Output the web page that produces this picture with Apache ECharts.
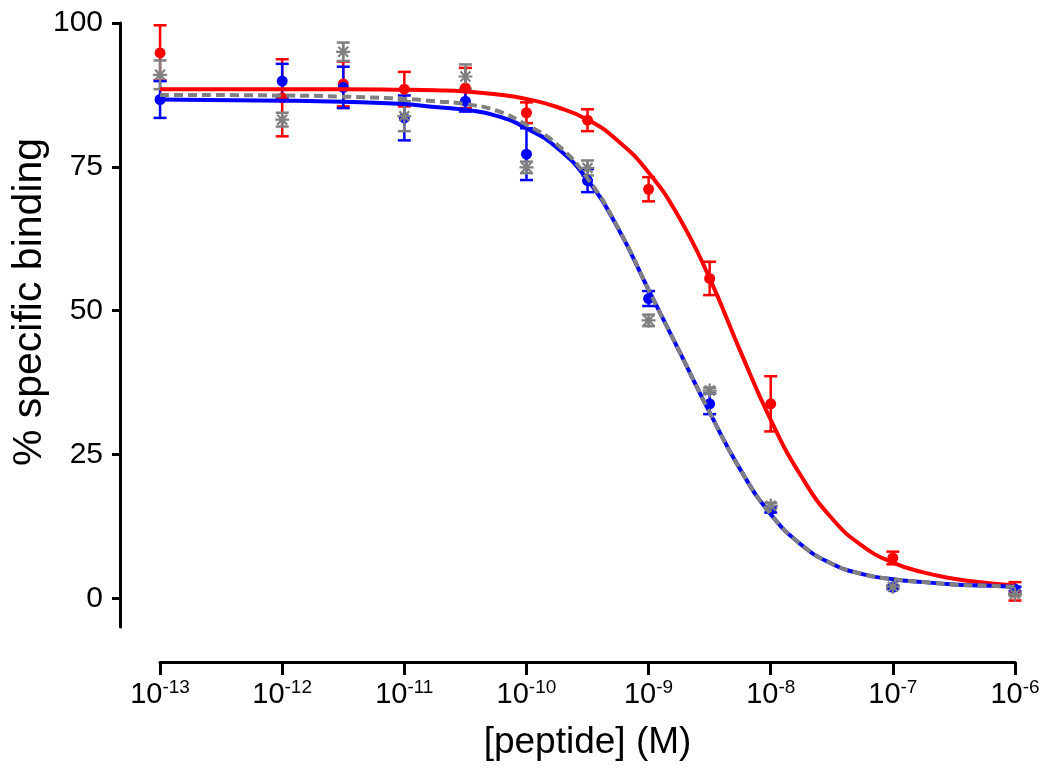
<!DOCTYPE html>
<html><head><meta charset="utf-8">
<script src="https://cdn.jsdelivr.net/npm/echarts@6/dist/echarts.min.js"></script>
<style>html,body{margin:0;padding:0;background:#fff}#c{width:1050px;height:780px}</style>
</head><body><div id="c"></div>
<script>
// ---- data (x in log10 molar) ----
const xTickExps = [-13, -12, -11, -10, -9, -8, -7, -6];
const yTickValues = [0, 25, 50, 75, 100];
const logConc = [-13, -12, -11.5, -11, -10.5, -10, -9.5, -9, -8.5, -8, -7, -6];

const redMean = [94.8, 87.0, 89.4, 88.5, 88.7, 84.4, 83.1, 71.1, 55.6, 33.8, 7.0, 1.2];
const redErr  = [4.8, 6.7, 3.9, 3.0, 3.5, 1.8, 1.9, 2.1, 2.9, 4.8, 1.1, 1.6];
const blueMean = [86.7, 89.9, 88.8, 83.5, 86.4, 77.2, 72.6, 52.1, 33.8, 15.4, 1.9, 1.6];
const blueErr  = [3.2, 3.0, 3.6, 3.9, 1.8, 4.5, 2.0, 1.3, 1.8, 0.5, 0.3, 0.4];
const grayMean = [91.0, 83.2, 95.0, 83.8, 90.7, 74.9, 74.8, 48.3, 36.1, 16.1, 2.0, 0.7];
const grayErr  = [2.5, 1.2, 1.6, 2.6, 2.1, 1.0, 1.3, 1.0, 0.5, 0.5, 0.3, 0.3];

// fitted curves
const curveX = [-13, -12, -11.5, -11, -10.75, -10.5, -10.25, -10, -9.75, -9.5, -9.25, -9, -8.75, -8.5, -8.25, -8, -7.75, -7.5, -7.25, -7, -6.75, -6.5, -6.25, -6];
const redFit  = [88.5, 88.5, 88.5, 88.4, 88.3, 88.1, 87.6, 86.8, 85.4, 83.2, 79.5, 74.0, 66.2, 55.6, 43.0, 31.0, 21.2, 13.9, 9.1, 6.2, 4.5, 3.4, 2.7, 2.2];
const blueFit = [86.7, 86.5, 86.3, 85.9, 85.4, 84.9, 83.9, 81.7, 78.3, 72.7, 64.3, 53.6, 43.0, 32.3, 22.4, 14.6, 9.3, 6.0, 4.2, 3.3, 2.8, 2.4, 2.2, 2.0];
const grayFit = [87.5, 87.4, 87.2, 86.8, 86.4, 85.9, 84.8, 82.3, 78.9, 73.0, 64.4, 53.6, 43.0, 32.3, 22.4, 14.6, 9.3, 6.0, 4.2, 3.3, 2.8, 2.4, 2.2, 2.0];

// ---- helpers ----
const SANS = "'Liberation Sans', Arial, sans-serif";
const ASTER = 'path://M-1,-0.16L1,-0.16L1,0.16L-1,0.16Z M-0.16,-1L0.16,-1L0.16,1L-0.16,1Z M-0.594,-0.820L0.820,0.594L0.594,0.820L-0.820,-0.594Z M-0.820,0.594L0.594,-0.820L0.820,-0.594L-0.594,0.820Z';

function pts(xs, ys) { return xs.map((x, i) => [x, ys[i]]); }
function errData(xs, m, e) { return xs.map((x, i) => [x, m[i] - e[i], m[i] + e[i]]); }
function errRender(color) {
  return function (params, api) {
    const x = api.value(0), lo = api.value(1), hi = api.value(2);
    const pH = api.coord([x, hi]), pL = api.coord([x, lo]);
    const hw = 6.5;
    const st = { stroke: color, lineWidth: 2.5, fill: null };
    return { type: 'group', children: [
      { type: 'line', shape: { x1: pH[0], y1: pH[1], x2: pL[0], y2: pL[1] }, style: st },
      { type: 'line', shape: { x1: pH[0] - hw, y1: pH[1], x2: pH[0] + hw, y2: pH[1] }, style: st },
      { type: 'line', shape: { x1: pL[0] - hw, y1: pL[1], x2: pL[0] + hw, y2: pL[1] }, style: st }
    ]};
  };
}
function errSeries(color, m, e) {
  return { type: 'custom', xAxisIndex: 0, yAxisIndex: 0, renderItem: errRender(color),
    encode: { x: 0, y: [1, 2] }, data: errData(logConc, m, e), silent: true };
}
function pointSeries(color, m, symbol, size) {
  return { type: 'scatter', xAxisIndex: 0, yAxisIndex: 0, data: pts(logConc, m), symbol: symbol,
    symbolSize: size, itemStyle: { color: color, opacity: 1 }, silent: true };
}
function fitSeries(color, ys, dashed) {
  return { type: 'line', xAxisIndex: 0, yAxisIndex: 0, data: pts(curveX, ys), showSymbol: false,
    smooth: 0.5, silent: true,
    lineStyle: { color: color, width: 4, type: dashed ? [9, 5] : 'solid' } };
}

const chart = echarts.init(document.getElementById('c'), null, { renderer: 'canvas' });
chart.setOption({
  animation: false,
  backgroundColor: '#ffffff',
  grid: [
    { left: 120, right: 35, top: 23, bottom: 153, outerBoundsMode: 'none', containLabel: false },
    { left: 160, right: 35, top: 560, bottom: 118, outerBoundsMode: 'none', containLabel: false }
  ],
  xAxis: [
    { gridIndex: 0, type: 'value', min: -13.328, max: -6, show: false },
    { gridIndex: 1, type: 'value', min: -13, max: -6, interval: 1,
      name: '[peptide] (M)', nameLocation: 'middle', nameGap: 62, nameMoveOverlap: false,
      nameTextStyle: { fontFamily: SANS, fontSize: 37, color: '#000' },
      axisLine: { show: true, onZero: false, lineStyle: { color: '#000', width: 3 } },
      axisTick: { show: true, inside: false, length: 13, lineStyle: { color: '#000', width: 3 } },
      splitLine: { show: false },
      axisLabel: { margin: 16, color: '#000',
        formatter: v => '{b|10}{s|' + v + '}',
        rich: {
          b: { fontFamily: SANS, fontSize: 29, lineHeight: 33, color: '#000' },
          s: { fontFamily: SANS, fontSize: 19, lineHeight: 19, verticalAlign: 'top', color: '#000' }
        } } }
  ],
  yAxis: [
    { gridIndex: 0, type: 'value', min: -5, max: 100,
      name: '% specific binding', nameLocation: 'middle', nameGap: 70, nameMoveOverlap: false,
      nameTextStyle: { fontFamily: SANS, fontSize: 41, color: '#000', padding: [0, 0, 0, 46] },
      axisLine: { show: true, lineStyle: { color: '#000', width: 3 } },
      axisTick: { show: true, inside: false, length: 8, customValues: yTickValues, lineStyle: { color: '#000', width: 3 } },
      axisLabel: { show: true, customValues: yTickValues, margin: 17, fontFamily: SANS, fontSize: 30, color: '#000' },
      splitLine: { show: false } },
    { gridIndex: 1, type: 'value', min: 0, max: 1, show: false }
  ],
  series: [
    errSeries('#ff0000', redMean, redErr),
    pointSeries('#ff0000', redMean, 'circle', 11),
    fitSeries('#ff0000', redFit, false),
    errSeries('#0000ff', blueMean, blueErr),
    pointSeries('#0000ff', blueMean, 'circle', 11),
    fitSeries('#0000ff', blueFit, false),
    errSeries('#808080', grayMean, grayErr),
    pointSeries('#808080', grayMean, ASTER, 14),
    fitSeries('#808080', grayFit, true)
  ]
});
</script>
</body></html>
